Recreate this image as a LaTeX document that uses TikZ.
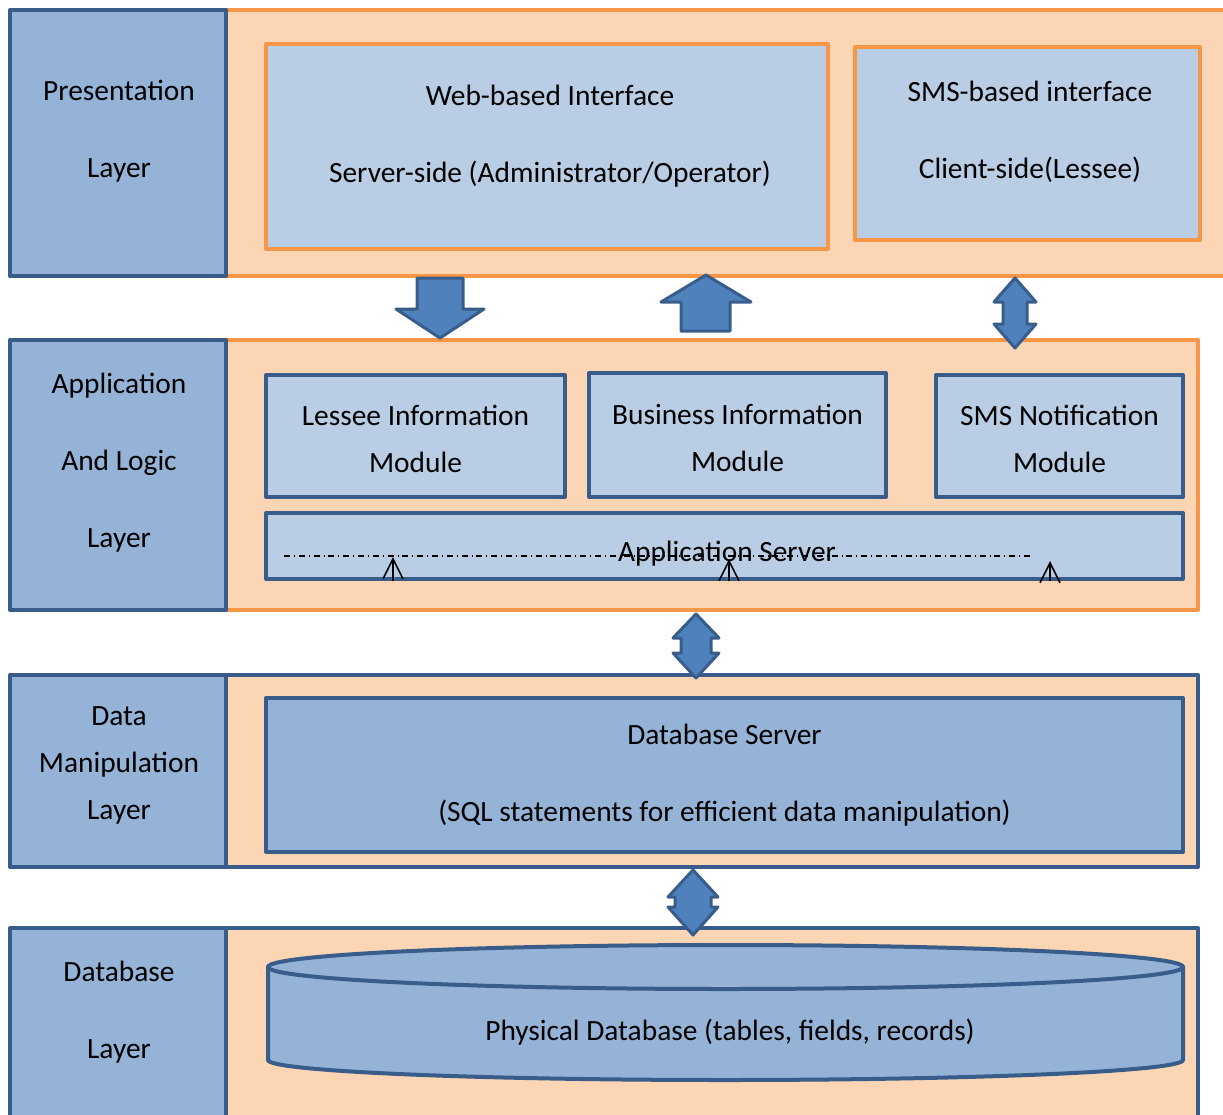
\documentclass[tikz,border=0pt]{standalone}
\usepackage{fontspec}
\setmainfont{Carlito}
\usetikzlibrary{arrows.meta}

\definecolor{peach}{HTML}{FCD5B5}
\definecolor{orangeline}{HTML}{F79646}
\definecolor{darkblue}{HTML}{385D8A}
\definecolor{labelblue}{HTML}{95B3D7}
\definecolor{lightblue}{HTML}{B9CDE5}
\definecolor{arrowblue}{HTML}{4F81BD}

\begin{document}
\begin{tikzpicture}[x=0.5pt, y=-0.5pt, line join=round,
	every node/.style={inner sep=0pt, align=center, font=\fontsize{14.7}{38.5}\selectfont},
	narrow/.style={font=\fontsize{14.7}{23.5}\selectfont},
	panel/.style={rectangle, draw=orangeline, line width=2pt, fill=peach},
	bluepanel/.style={rectangle, draw=darkblue, line width=2pt, fill=peach},
	layerbox/.style={rectangle, draw=darkblue, line width=2pt, fill=labelblue},
	orangebox/.style={rectangle, draw=orangeline, line width=2pt, fill=lightblue},
	modbox/.style={rectangle, draw=darkblue, line width=2pt, fill=lightblue},
	blockarrow/.style={draw=darkblue, line width=1.5pt, fill=arrowblue},
	smallarrow/.style={-{Straight Barb[length=10pt,width=10pt]}, line width=0.8pt}]
	\useasboundingbox (0,0) rectangle (1223,1115);
	%Panels
	\node [panel, minimum width=507pt, minimum height=133pt] (prespanel) at (733,143) {};
	\node [panel, minimum width=486pt, minimum height=135pt] (apppanel) at (712,475) {};
	\node [bluepanel, minimum width=486pt, minimum height=96pt] (datapanel) at (712,771) {};
	\node [bluepanel, minimum width=486pt, minimum height=106pt] (dbpanel) at (712,1034) {};
	%Layers
	\node [layerbox, minimum width=108pt, minimum height=133pt] (preslayer) at (118,143) {};
	\node [layerbox, minimum width=108pt, minimum height=135pt] (applayer) at (118,475) {};
	\node [layerbox, minimum width=108pt, minimum height=96pt] (datalayer) at (118,771) {};
	\node [layerbox, minimum width=108pt, minimum height=106pt] (dblayer) at (118,1034) {};
	\node (prestxt) at (119,131) {Presentation\\Layer};
	\node (apptxt) at (119,463) {Application\\And Logic\\Layer};
	\node [narrow] (datatxt) at (119,765) {Data\\Manipulation\\Layer};
	\node (dbtxt) at (119,1012) {Database\\Layer};
	%Presentation
	\node [orangebox, minimum width=281pt, minimum height=102.5pt] (web) at (547,146.5) {};
	\node (webtxt) at (550,136) {Web-based Interface\\Server-side (Administrator/Operator)};
	\node [orangebox, minimum width=172.5pt, minimum height=96.5pt] (smsif) at (1027.5,143.5) {};
	\node (smsiftxt) at (1030,132) {SMS-based interface\\Client-side(Lessee)};
	%Application and logic
	\node [modbox, narrow, minimum width=149.5pt, minimum height=61pt] (lessee) at (415.5,436) {\rule{0pt}{13.5pt}Lessee Information\\Module};
	\node [modbox, narrow, minimum width=148.5pt, minimum height=62pt] (business) at (737.5,435) {\rule{0pt}{13.5pt}Business Information\\Module};
	\node [modbox, narrow, minimum width=123.5pt, minimum height=61pt] (smsnot) at (1059.5,436) {\rule{0pt}{13.5pt}SMS Notification\\Module};
	\node [modbox, minimum width=458.5pt, minimum height=33pt] (appserver) at (724.5,546) {};
	\node (appservertxt) at (727,554) {Application Server};
	\coordinate (dl) at (284,556);
	\coordinate (dr) at (1032,556);
	\draw[dash dot, line width=0.6pt] (dl) -- (dr);
	\coordinate (up1) at (393,557);
	\coordinate (up2) at (729,559);
	\coordinate (up3) at (1050,561);
	\draw[smallarrow] (up1 |- appserver.south) -- (up1);
	\draw[smallarrow] (up2 |- appserver.south) -- (up2);
	\draw[smallarrow] (up3 |- appserver.south) -- (up3);
	%Data manipulation
	\node [layerbox, minimum width=458.5pt, minimum height=77pt] (dbserver) at (724.5,775) {Database Server\\(SQL statements for efficient data manipulation)};
	%Database
	\draw[layerbox] (268,967) -- (268,1060) arc[start angle=180, end angle=360, x radius=228.75pt, y radius=10pt] -- (1183,967) -- cycle;
	\draw[layerbox] (725.5,967) ellipse [x radius=228.75pt, y radius=11pt];
	\node (physdb) at (730,1032) {Physical Database (tables, fields, records)};
	%Block arrows
	\draw[blockarrow] (417,278) -- (463,278) -- (463,309) -- (484,309) -- (440,338) -- (396,309) -- (417,309) -- cycle;
	\draw[blockarrow] (681,331) -- (730,331) -- (730,302) -- (751,302) -- (706,275) -- (661,302) -- (681,302) -- cycle;
	\draw[blockarrow] (1015,278) -- (1036,302) -- (1027,302) -- (1027,324) -- (1036,324) -- (1015,348) -- (994,324) -- (1003,324) -- (1003,302) -- (994,302) -- cycle;
	\draw[blockarrow] (696,614) -- (719,638) -- (711,638) -- (711,653) -- (719,653) -- (696,678) -- (673,653) -- (681,653) -- (681,638) -- (673,638) -- cycle;
	\draw[blockarrow] (693,870) -- (718,897) -- (711,897) -- (711,907) -- (718,907) -- (693,935) -- (668,907) -- (675,907) -- (675,897) -- (668,897) -- cycle;
\end{tikzpicture}
\end{document}
